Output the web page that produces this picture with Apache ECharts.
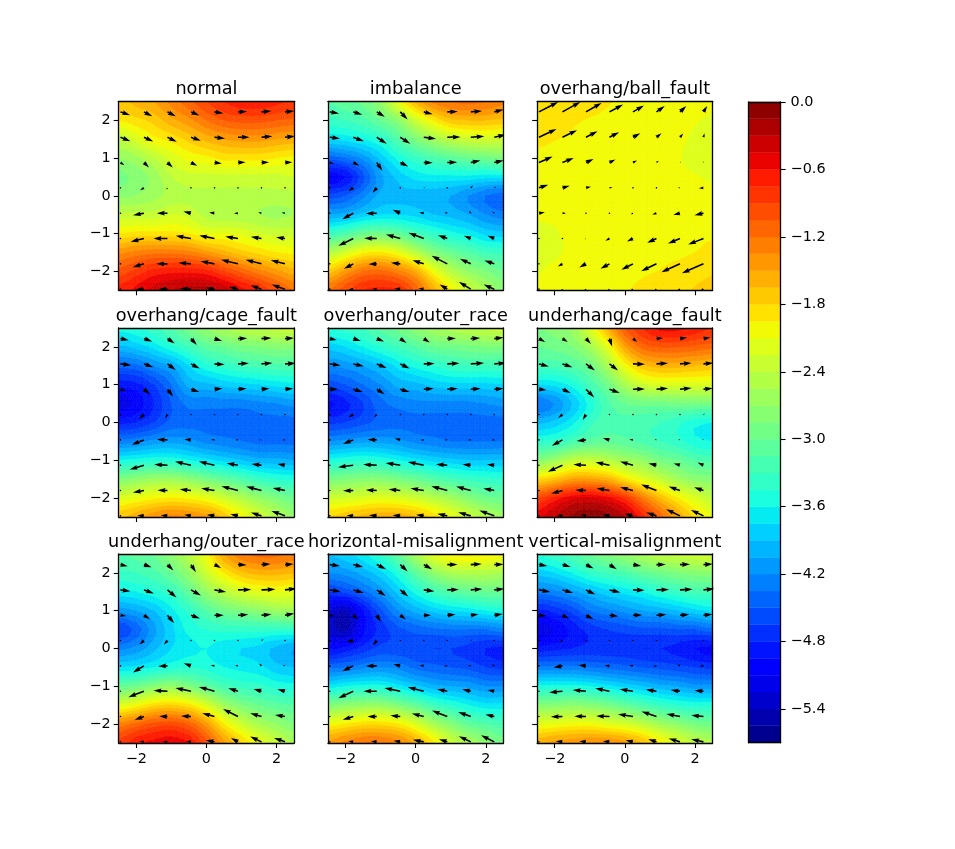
<!DOCTYPE html>
<html>
<head>
<meta charset="utf-8">
<style>html,body{margin:0;padding:0;background:#fff}#chart{width:955px;height:849px}</style>
<script src="https://cdn.jsdelivr.net/npm/echarts@6/dist/echarts.min.js"></script>
</head>
<body>
<div id="chart"></div>
<script>
// contour sample positions, rows go from top (y=2.5) to bottom (y=-2.5)
const gridX = [-2.5,-2,-1.5,-1,-0.5,0,0.5,1,1.5,2,2.5];
const gridY = [2.5,2,1.5,1,0.5,0,-0.5,-1,-1.5,-2,-2.5];
// arrow tails
const arrowX = [-2.45,-1.78,-1.11,-0.44,0.23,0.9,1.57,2.24];
const arrowY = [2.22,1.55,0.88,0.21,-0.46,-1.13,-1.8,-2.47];

const xTicks = [-2,0,2];
const yTicks = [-2,-1,0,1,2];
const barTicks = [0,-0.6,-1.2,-1.8,-2.4,-3.0,-3.6,-4.2,-4.8,-5.4];
const barMin = -5.7;
const barStep = 0.15;

const titles = ['normal','imbalance','overhang/ball_fault','overhang/cage_fault','overhang/outer_race','underhang/cage_fault','underhang/outer_race','horizontal-misalignment','vertical-misalignment'];

const zNormal = [
-1.7,-1.6,-1.5,-1.3,-1.1,-0.9,-0.75,-0.65,-0.65,-0.7,-0.8,
-1.95,-1.85,-1.75,-1.55,-1.4,-1.2,-1.05,-1.0,-1.0,-1.05,-1.1,
-2.4,-2.2,-2.0,-1.9,-1.75,-1.6,-1.5,-1.45,-1.45,-1.5,-1.55,
-2.7,-2.6,-2.4,-2.2,-2.05,-2.0,-1.9,-1.9,-1.9,-1.95,-2.0,
-2.9,-2.8,-2.65,-2.4,-2.3,-2.3,-2.3,-2.3,-2.3,-2.3,-2.25,
-2.75,-2.7,-2.6,-2.5,-2.45,-2.45,-2.45,-2.45,-2.45,-2.45,-2.45,
-2.35,-2.35,-2.35,-2.25,-2.3,-2.45,-2.5,-2.5,-2.55,-2.6,-2.55,
-1.95,-1.9,-1.9,-1.9,-1.95,-2.1,-2.1,-2.15,-2.25,-2.3,-2.3,
-1.4,-1.3,-1.25,-1.25,-1.3,-1.45,-1.6,-1.75,-1.85,-1.95,-2.0,
-1.0,-0.85,-0.7,-0.65,-0.65,-0.7,-0.9,-1.1,-1.3,-1.45,-1.6,
-0.7,-0.55,-0.4,-0.3,-0.25,-0.25,-0.35,-0.55,-0.75,-1.0,-1.2];
const zImbalance = [
-3.15,-3.05,-2.95,-2.7,-2.1,-1.6,-1.3,-1.2,-1.15,-1.2,-1.3,
-3.35,-3.3,-3.2,-3.0,-2.75,-2.3,-1.95,-1.7,-1.65,-1.65,-1.7,
-3.75,-3.7,-3.6,-3.45,-3.15,-2.85,-2.6,-2.4,-2.3,-2.25,-2.3,
-4.45,-4.35,-4.15,-3.85,-3.55,-3.35,-3.2,-3.1,-3.0,-2.95,-2.85,
-5.05,-4.95,-4.55,-4.1,-3.85,-3.7,-3.65,-3.65,-3.65,-3.7,-3.7,
-4.6,-4.5,-4.25,-4.0,-3.95,-3.95,-4.0,-4.05,-4.2,-4.35,-4.45,
-4.05,-4.0,-3.85,-3.75,-3.75,-3.8,-3.9,-3.95,-4.05,-4.2,-4.3,
-3.35,-3.2,-3.0,-2.95,-3.05,-3.25,-3.4,-3.55,-3.65,-3.8,-3.85,
-2.5,-2.25,-2.0,-1.95,-2.1,-2.45,-2.8,-3.0,-3.15,-3.3,-3.35,
-1.75,-1.45,-1.2,-1.15,-1.3,-1.55,-2.05,-2.45,-2.7,-2.85,-3.0,
-1.2,-0.95,-0.75,-0.7,-0.75,-1.1,-1.55,-1.95,-2.3,-2.55,-2.75];
const zBallFault = [
-1.8,-1.83,-1.86,-1.89,-1.94,-1.97,-2.0,-2.02,-2.03,-2.05,-2.08,
-1.86,-1.89,-1.93,-1.96,-1.98,-2.0,-2.02,-2.04,-2.06,-2.09,-2.12,
-1.92,-1.945,-1.97,-2.0,-2.02,-2.03,-2.05,-2.06,-2.08,-2.12,-2.17,
-1.98,-2.0,-2.02,-2.03,-2.04,-2.05,-2.06,-2.07,-2.09,-2.14,-2.19,
-2.02,-2.03,-2.04,-2.05,-2.05,-2.06,-2.06,-2.07,-2.08,-2.09,-2.12,
-2.05,-2.05,-2.05,-2.05,-2.05,-2.05,-2.05,-2.05,-2.05,-2.06,-2.07,
-2.08,-2.08,-2.07,-2.06,-2.05,-2.05,-2.05,-2.04,-2.04,-2.03,-2.03,
-2.14,-2.11,-2.08,-2.07,-2.06,-2.05,-2.04,-2.02,-2.0,-1.98,-1.97,
-2.16,-2.12,-2.08,-2.07,-2.05,-2.03,-2.01,-1.99,-1.98,-1.95,-1.91,
-2.11,-2.07,-2.06,-2.04,-2.02,-2.0,-1.97,-1.945,-1.9,-1.86,-1.82,
-2.08,-2.06,-2.04,-2.02,-2.0,-1.96,-1.92,-1.88,-1.83,-1.79,-1.75];
const zOverCage = [
-3.55,-3.5,-3.35,-3.15,-2.9,-2.7,-2.55,-2.45,-2.4,-2.35,-2.3,
-3.95,-3.85,-3.7,-3.5,-3.3,-3.1,-3.0,-2.9,-2.85,-2.8,-2.8,
-4.45,-4.4,-4.2,-4.05,-3.75,-3.5,-3.4,-3.3,-3.25,-3.2,-3.2,
-4.9,-4.85,-4.65,-4.35,-4.0,-3.95,-3.85,-3.8,-3.75,-3.7,-3.65,
-5.2,-5.05,-4.8,-4.5,-4.3,-4.3,-4.3,-4.3,-4.25,-4.2,-4.15,
-4.85,-4.8,-4.65,-4.45,-4.4,-4.4,-4.4,-4.4,-4.4,-4.4,-4.4,
-4.3,-4.25,-4.15,-4.1,-4.15,-4.25,-4.3,-4.35,-4.4,-4.4,-4.4,
-3.6,-3.55,-3.5,-3.5,-3.6,-3.7,-3.8,-3.9,-4.0,-4.0,-4.05,
-2.85,-2.75,-2.65,-2.65,-2.75,-2.9,-3.05,-3.2,-3.35,-3.45,-3.5,
-2.2,-2.1,-2.0,-1.95,-2.0,-2.1,-2.3,-2.5,-2.7,-2.85,-3.0,
-1.7,-1.55,-1.4,-1.3,-1.35,-1.45,-1.7,-2.0,-2.25,-2.5,-2.7];
const zOverOuter = [
-3.45,-3.4,-3.3,-3.1,-2.95,-2.75,-2.6,-2.5,-2.42,-2.38,-2.3,
-3.85,-3.75,-3.6,-3.45,-3.3,-3.15,-3.0,-2.95,-2.9,-2.85,-2.85,
-4.2,-4.15,-4.05,-3.9,-3.7,-3.55,-3.45,-3.35,-3.3,-3.3,-3.3,
-4.6,-4.5,-4.35,-4.2,-4.0,-3.95,-3.85,-3.8,-3.8,-3.8,-3.75,
-5.0,-4.85,-4.65,-4.4,-4.3,-4.25,-4.25,-4.25,-4.25,-4.2,-4.15,
-4.7,-4.65,-4.55,-4.45,-4.4,-4.4,-4.4,-4.4,-4.4,-4.4,-4.4,
-4.2,-4.15,-4.1,-4.1,-4.15,-4.25,-4.3,-4.35,-4.35,-4.35,-4.35,
-3.55,-3.5,-3.45,-3.5,-3.6,-3.7,-3.8,-3.85,-3.9,-3.9,-3.9,
-2.9,-2.85,-2.8,-2.8,-2.9,-3.0,-3.15,-3.25,-3.35,-3.4,-3.45,
-2.3,-2.25,-2.2,-2.15,-2.2,-2.3,-2.45,-2.6,-2.8,-2.95,-3.0,
-1.8,-1.7,-1.6,-1.55,-1.55,-1.65,-1.85,-2.1,-2.3,-2.5,-2.65];
const zUnderCage = [
-2.85,-2.8,-2.65,-2.2,-1.6,-1.05,-0.75,-0.55,-0.55,-0.65,-0.75,
-3.0,-2.95,-2.85,-2.6,-2.15,-1.5,-1.15,-1.05,-1.05,-1.1,-1.15,
-3.25,-3.25,-3.15,-2.95,-2.55,-2.05,-1.7,-1.6,-1.6,-1.65,-1.7,
-3.75,-3.7,-3.55,-3.25,-2.95,-2.55,-2.3,-2.2,-2.2,-2.2,-2.2,
-4.35,-4.2,-3.9,-3.55,-3.2,-3.0,-2.95,-2.95,-2.9,-2.9,-2.9,
-3.95,-3.85,-3.65,-3.35,-3.2,-3.2,-3.25,-3.3,-3.4,-3.55,-3.6,
-3.45,-3.4,-3.25,-3.1,-3.05,-3.1,-3.2,-3.3,-3.4,-3.55,-3.6,
-2.8,-2.65,-2.4,-2.35,-2.45,-2.6,-2.7,-2.9,-3.0,-3.15,-3.2,
-1.85,-1.7,-1.5,-1.5,-1.6,-1.9,-2.15,-2.35,-2.6,-2.75,-2.8,
-0.95,-0.7,-0.5,-0.45,-0.55,-0.8,-1.25,-1.65,-1.95,-2.2,-2.4,
-0.5,-0.3,-0.12,-0.05,-0.1,-0.3,-0.7,-1.1,-1.5,-1.85,-2.1];
const zUnderOuter = [
-3.15,-3.1,-3.0,-2.75,-2.45,-2.05,-1.5,-1.25,-1.15,-1.15,-1.25,
-3.35,-3.3,-3.2,-3.0,-2.7,-2.3,-1.95,-1.7,-1.6,-1.6,-1.65,
-3.65,-3.6,-3.5,-3.35,-3.05,-2.7,-2.45,-2.25,-2.15,-2.1,-2.15,
-4.15,-4.05,-3.9,-3.65,-3.4,-3.15,-2.95,-2.85,-2.75,-2.65,-2.6,
-4.65,-4.45,-4.1,-3.8,-3.55,-3.45,-3.4,-3.4,-3.4,-3.4,-3.4,
-4.25,-4.15,-3.95,-3.75,-3.65,-3.6,-3.7,-3.75,-3.8,-3.95,-4.05,
-3.75,-3.7,-3.6,-3.5,-3.45,-3.5,-3.6,-3.65,-3.7,-3.85,-3.9,
-3.05,-2.95,-2.8,-2.7,-2.85,-3.05,-3.25,-3.35,-3.4,-3.5,-3.55,
-2.2,-2.05,-1.85,-1.8,-1.9,-2.2,-2.6,-2.85,-3.0,-3.1,-3.15,
-1.3,-1.15,-1.0,-0.95,-1.1,-1.45,-1.95,-2.3,-2.55,-2.7,-2.85,
-0.85,-0.65,-0.55,-0.5,-0.6,-1.0,-1.45,-1.8,-2.1,-2.35,-2.55];
const zHorizontal = [
-3.9,-3.8,-3.65,-3.4,-3.05,-2.55,-2.15,-1.95,-1.9,-1.95,-2.0,
-4.2,-4.15,-4.0,-3.8,-3.5,-3.1,-2.75,-2.55,-2.5,-2.5,-2.55,
-4.7,-4.6,-4.4,-4.15,-3.85,-3.55,-3.3,-3.15,-3.05,-3.0,-3.0,
-5.25,-5.4,-4.95,-4.55,-4.2,-4.0,-3.85,-3.75,-3.7,-3.6,-3.55,
-5.3,-5.45,-5.0,-4.75,-4.55,-4.45,-4.4,-4.35,-4.35,-4.35,-4.25,
-5.0,-4.9,-4.75,-4.6,-4.6,-4.6,-4.65,-4.65,-4.7,-4.8,-4.85,
-4.4,-4.35,-4.25,-4.2,-4.25,-4.4,-4.45,-4.5,-4.55,-4.65,-4.7,
-3.7,-3.6,-3.55,-3.55,-3.7,-3.85,-4.0,-4.05,-4.1,-4.2,-4.2,
-2.85,-2.75,-2.7,-2.7,-2.85,-3.05,-3.3,-3.45,-3.6,-3.7,-3.7,
-2.05,-1.95,-1.85,-1.85,-1.95,-2.2,-2.55,-2.8,-3.05,-3.15,-3.25,
-1.45,-1.3,-1.2,-1.2,-1.3,-1.55,-1.9,-2.3,-2.55,-2.75,-2.95];
const zVertical = [
-3.45,-3.35,-3.2,-3.0,-2.85,-2.7,-2.55,-2.4,-2.35,-2.3,-2.25,
-3.85,-3.75,-3.6,-3.4,-3.3,-3.2,-3.05,-2.95,-2.85,-2.8,-2.75,
-4.3,-4.25,-4.1,-3.95,-3.8,-3.7,-3.6,-3.45,-3.35,-3.25,-3.25,
-4.85,-4.75,-4.6,-4.35,-4.25,-4.15,-4.05,-4.0,-3.9,-3.8,-3.7,
-5.2,-5.1,-4.9,-4.75,-4.65,-4.6,-4.55,-4.55,-4.5,-4.5,-4.4,
-4.9,-4.85,-4.8,-4.75,-4.75,-4.75,-4.8,-4.8,-4.85,-4.95,-5.0,
-4.3,-4.3,-4.3,-4.35,-4.4,-4.45,-4.5,-4.55,-4.6,-4.65,-4.7,
-3.55,-3.55,-3.55,-3.6,-3.7,-3.8,-3.9,-4.0,-4.05,-4.15,-4.15,
-2.8,-2.8,-2.75,-2.8,-2.9,-3.05,-3.2,-3.35,-3.45,-3.5,-3.5,
-2.15,-2.1,-2.05,-2.05,-2.15,-2.25,-2.4,-2.6,-2.75,-2.9,-2.95,
-1.55,-1.45,-1.4,-1.35,-1.35,-1.45,-1.65,-1.95,-2.2,-2.4,-2.5];

const uNormal = [
29,25,25,25,27,28,30,28,
30,28,28,30,32,35,33,30,
12,15,16,19,22,23,23,22,
0,-12,-3,0,2,2,2,2,
-1,-33,-32,-23,-16,-12,-10,-10,
-1,-40,-42,-46,-46,-38,-32,-27,
-2,-34,-34,-38,-42,-51,-48,-43,
-1,-27,-27,-33,-27,-28,-33,-40];
const vNormal = [
10,13,13,11,4,-1,-3,-3,
12,13,14,11,4,0,-3,-3,
8,15,15,10,3,-1,-1,-1,
0,7,6,1,-1,0,-1,0,
0,6,0,-5,-2,0,-3,-2,
0,10,0,-8,-9,-6,-5,-4,
0,10,0,-3,-8,-12,-12,-11,
0,2,0,-2,-4,-7,-12,-14];
const uImbalance = [
28,27,24,22,27,32,34,28,
31,32,30,30,37,40,41,35,
13,18,17,24,27,30,29,28,
0,-15,-13,1,5,3,7,6,
1,-33,-33,-23,-14,-9,-6,-6,
1,-45,-38,-43,-46,-28,-21,-20,
-1,-28,-25,-28,-34,-47,-33,-30,
-1,-15,-13,-18,-16,-23,-36,-32];
const vImbalance = [
5,9,15,23,7,-1,-3,-7,
4,12,20,20,5,-1,-3,-8,
4,10,25,12,1,-1,-6,-6,
0,10,15,2,0,0,-7,-3,
0,18,1,-10,-2,-2,-7,-4,
0,22,-1,-12,-17,-10,-8,-8,
0,15,1,-3,-11,-24,-15,-10,
0,1,-1,-2,-3,-14,-22,-14];
const uBallFault = [
58,54,47,41,33,25,19,11,
53,44,35,29,22,15,10,3,
41,34,23,18,12,7,3,-2,
28,22,15,9,3,2,-6,-14,
18,11,3,2,-7,-13,-20,-27,
1,1,-3,-12,-18,-28,-36,-46,
0,-14,-20,-27,-35,-46,-56,-65,
0,-4,-6,-6,-8,-8,-10,-12];
const vBallFault = [
-30,-30,-27,-22,-19,-18,-18,-18,
-25,-21,-18,-15,-12,-12,-11,-12,
-18,-14,-11,-9,-6,-5,-3,-4,
-9,-6,-3,-2,0,0,0,1,
-3,0,0,-1,3,4,5,6,
0,0,3,7,9,13,15,18,
0,8,11,15,18,22,25,28,
0,8,8,8,8,8,8,8];
const uOverCage = [
25,25,22,18,23,28,30,27,
32,28,25,26,31,33,33,32,
18,18,17,25,24,26,24,25,
0,-15,-7,1,1,1,1,1,
1,-37,-32,-20,-10,-8,-7,-8,
1,-43,-40,-48,-47,-34,-30,-23,
-1,-33,-30,-34,-40,-50,-46,-37,
-1,-20,-20,-20,-23,-23,-32,-41];
const vOverCage = [
5,9,15,19,7,-1,-2,-2,
4,10,18,14,2,-2,-3,-2,
5,15,22,8,-2,-2,-2,-2,
0,13,12,1,0,0,0,0,
0,15,-1,-2,-1,0,0,0,
0,13,-2,-11,-11,-6,-4,-4,
0,6,-1,-4,-7,-13,-12,-8,
0,-1,-2,-3,-3,-5,-10,-15];
const uOverOuter = [
21,23,22,19,18,26,28,28,
33,32,30,28,33,37,40,36,
25,29,24,28,30,32,30,28,
0,-15,-8,1,1,1,1,1,
0,-31,-28,-17,-10,-8,-9,-8,
0,-46,-41,-44,-48,-34,-25,-22,
-1,-31,-33,-35,-40,-48,-44,-33,
-1,-20,-23,-23,-23,-30,-38,-45];
const vOverOuter = [
4,7,9,13,12,-1,-2,-3,
5,7,12,14,-1,-2,-3,-3,
0,8,15,8,-2,-2,-2,-2,
0,8,8,1,0,0,0,0,
0,12,-1,-4,0,0,0,0,
0,6,-2,-7,-10,-3,-2,-2,
0,1,-2,-4,-7,-13,-12,-6,
0,-1,-2,-2,-3,-6,-11,-16];
const uUnderCage = [
19,16,15,8,13,20,22,21,
30,30,27,26,36,35,35,30,
23,25,25,31,36,35,35,28,
0,-13,-10,1,3,3,3,4,
0,-32,-28,-20,-11,-6,-5,-4,
0,-44,-38,-42,-39,-24,-19,-18,
-1,-34,-32,-39,-39,-46,-34,-28,
-1,-16,-15,-20,-26,-31,-42,-38];
const vUnderCage = [
10,10,16,24,10,-2,-3,-3,
8,10,20,20,1,-2,-3,-3,
2,11,25,11,-1,-3,-4,-3,
0,10,16,1,0,0,-2,-4,
0,18,3,-6,-1,-1,-3,-3,
0,20,-2,-9,-11,-5,-5,-8,
0,9,-2,-7,-10,-18,-12,-10,
0,-2,-3,-4,-6,-10,-20,-18];
const uUnderOuter = [
22,23,18,15,20,26,27,26,
30,30,27,30,35,40,42,35,
17,18,20,27,28,31,30,28,
0,-14,-11,2,2,2,6,3,
1,-33,-28,-22,-11,-9,-7,-7,
1,-47,-42,-47,-47,-29,-24,-23,
-1,-28,-25,-30,-37,-45,-34,-30,
-1,-14,-14,-15,-26,-21,-34,-33];
const vUnderOuter = [
5,8,18,23,10,1,-2,-2,
4,11,23,17,6,-1,-2,-4,
2,12,24,10,0,-2,-3,-5,
0,12,12,2,0,0,-5,-2,
0,20,1,-8,-2,-2,-8,-3,
0,18,-2,-10,-13,-9,-7,-6,
0,10,-1,-2,-10,-23,-10,-5,
0,-2,-1,-2,-5,-12,-16,-12];
const uHorizontal = [
31,30,28,22,25,31,33,28,
33,32,27,24,32,35,35,30,
15,15,12,17,22,25,23,25,
0,-21,-12,1,1,1,4,3,
1,-33,-33,-21,-13,-10,-9,-8,
1,-45,-40,-48,-48,-31,-26,-20,
-1,-32,-28,-30,-36,-46,-38,-27,
-1,-15,-18,-20,-33,-25,-36,-40];
const vHorizontal = [
4,7,14,21,14,0,-2,-1,
5,9,18,20,4,-1,-3,-3,
2,13,20,13,0,-2,-3,-4,
0,4,15,0,0,0,-4,-2,
0,16,0,-5,-2,0,-1,-4,
0,21,0,-10,-12,-6,-6,-4,
0,10,0,-3,-9,-18,-14,-6,
0,-2,-2,-3,-6,-8,-17,-20];
const uVertical = [
25,25,23,22,25,28,30,28,
34,32,28,33,35,38,38,33,
23,20,23,27,28,30,28,27,
0,-8,1,1,1,1,3,2,
1,-27,-23,-15,-12,-10,-8,-12,
1,-40,-40,-43,-40,-32,-28,-27,
-1,-35,-35,-40,-45,-45,-41,-37,
-1,-20,-20,-20,-22,-25,-34,-37];
const vVertical = [
4,7,12,14,4,0,-1,-2,
6,9,14,8,1,-1,-2,-4,
2,10,12,3,-1,-2,-2,-3,
0,6,1,0,0,0,-3,-1,
0,5,-2,-2,-1,0,-4,0,
0,4,-4,-9,-6,-5,-4,-2,
0,1,-1,-2,-7,-15,-8,-4,
0,-2,-2,-2,-5,-8,-10,-8];

const zData = [zNormal,zImbalance,zBallFault,zOverCage,zOverOuter,zUnderCage,zUnderOuter,zHorizontal,zVertical];
const uData = [uNormal,uImbalance,uBallFault,uOverCage,uOverOuter,uUnderCage,uUnderOuter,uHorizontal,uVertical];
const vData = [vNormal,vImbalance,vBallFault,vOverCage,vOverOuter,vUnderCage,vUnderOuter,vHorizontal,vVertical];

const arrowUnitX = 1 / 105.5;
const arrowUnitY = 1 / 113.75;

// matplotlib jet
function ramp(t, pts) {
    for (let i = 1; i < pts.length; i++) {
        if (t <= pts[i][0]) {
            const a = pts[i - 1], b = pts[i];
            return a[1] + (b[1] - a[1]) * (t - a[0]) / (b[0] - a[0]);
        }
    }
    return pts[pts.length - 1][1];
}
function jet(t) {
    const r = ramp(t, [[0,0],[0.35,0],[0.66,1],[0.89,1],[1,0.5]]);
    const g = ramp(t, [[0,0],[0.125,0],[0.375,1],[0.64,1],[0.91,0],[1,0]]);
    const b = ramp(t, [[0,0.5],[0.11,1],[0.34,1],[0.65,0],[1,0]]);
    return 'rgb(' + Math.round(r * 255) + ',' + Math.round(g * 255) + ',' + Math.round(b * 255) + ')';
}

const bands = [];
for (let i = 0; i < 38; i++) {
    const lo = barMin + i * barStep;
    bands.push({ lo: lo, hi: lo + barStep, color: jet((i + 0.5) / 38) });
}

// clip a polygon of [x, y, z] to one side of a z level
function clipZ(poly, limit, keepAbove) {
    const out = [];
    for (let i = 0; i < poly.length; i++) {
        const a = poly[i], b = poly[(i + 1) % poly.length];
        const ina = keepAbove ? a[2] >= limit : a[2] <= limit;
        const inb = keepAbove ? b[2] >= limit : b[2] <= limit;
        if (ina) out.push(a);
        if (ina !== inb) {
            const k = (limit - a[2]) / (b[2] - a[2]);
            out.push([a[0] + (b[0] - a[0]) * k, a[1] + (b[1] - a[1]) * k, limit]);
        }
    }
    return out;
}

// the contour surface through the read samples, so band edges come out round
function cubic(a, b, c, d, t) {
    return b + 0.5 * t * (c - a + t * (2 * a - 5 * b + 4 * c - d + t * (3 * (b - c) + d - a)));
}
function surface(z, fi, fj) {
    const n = gridX.length;
    const i = Math.min(Math.floor(fi), n - 2), j = Math.min(Math.floor(fj), n - 2);
    const rows = [];
    for (let r = j - 1; r <= j + 2; r++) {
        const rr = Math.max(0, Math.min(n - 1, r));
        const at = function (c) { return z[rr * n + Math.max(0, Math.min(n - 1, c))]; };
        rows.push(cubic(at(i - 1), at(i), at(i + 1), at(i + 2), fi - i));
    }
    const v = cubic(rows[0], rows[1], rows[2], rows[3], fj - j);
    return Math.max(barMin + 0.001, Math.min(-0.001, v));
}

const refine = 3;

function renderCell(params, api) {
    const ci = api.value(2), cj = api.value(3), z = zData[api.value(4)];
    const children = [];
    function corner(fi, fj) {
        return [gridX[0] + fi * 0.5, gridY[0] - fj * 0.5, surface(z, fi, fj)];
    }
    for (let sj = 0; sj < refine; sj++) {
        for (let si = 0; si < refine; si++) {
            const i0 = ci + si / refine, i1 = ci + (si + 1) / refine;
            const j0 = cj + sj / refine, j1 = cj + (sj + 1) / refine;
            const a = corner(i0, j0), b = corner(i1, j0), c = corner(i1, j1), d = corner(i0, j1);
            const m = [(a[0] + b[0]) / 2, (a[1] + d[1]) / 2, (a[2] + b[2] + c[2] + d[2]) / 4];
            [[a, b, m], [b, c, m], [c, d, m], [d, a, m]].forEach(function (tri) {
                const zMin = Math.min(tri[0][2], tri[1][2], tri[2][2]);
                const zMax = Math.max(tri[0][2], tri[1][2], tri[2][2]);
                bands.forEach(function (band) {
                    if (band.hi < zMin || band.lo > zMax) return;
                    const poly = clipZ(clipZ(tri, band.lo, true), band.hi, false);
                    if (poly.length < 3) return;
                    children.push({
                        type: 'polygon',
                        shape: { points: poly.map(function (p) { return api.coord([p[0], p[1]]); }) },
                        style: { fill: band.color, stroke: band.color, lineWidth: 0.6 }
                    });
                });
            });
        }
    }
    return { type: 'group', children: children };
}

function renderArrow(params, api) {
    const tail = api.coord([api.value(0), api.value(1)]);
    const tip = api.coord([api.value(0) + api.value(2) * arrowUnitX, api.value(1) - api.value(3) * arrowUnitY]);
    const dx = tip[0] - tail[0], dy = tip[1] - tail[1];
    const len = Math.sqrt(dx * dx + dy * dy);
    if (len < 1.2) {
        return { type: 'circle', shape: { cx: tail[0], cy: tail[1], r: 0.8 }, style: { fill: '#000' } };
    }
    const w = 1.6, hl = 5 * w, hal = 4.5 * w, hw = 1.5 * w;
    const s = len < hl ? len / hl : 1;
    const end = len / s;
    const local = [[0, w / 2], [end - hal, w / 2], [end - hl, hw], [end, 0], [end - hl, -hw], [end - hal, -w / 2], [0, -w / 2]];
    const cos = dx / len, sin = dy / len;
    const pts = local.map(function (p) {
        return [tail[0] + s * (p[0] * cos - p[1] * sin), tail[1] + s * (p[0] * sin + p[1] * cos)];
    });
    return { type: 'polygon', shape: { points: pts }, style: { fill: '#000' } };
}

const chart = echarts.init(document.getElementById('chart'));

const colLeft = [118.7, 328, 537.2];
const rowTop = [101.3, 328, 554];
const panelW = 175.4, panelH = 189;
const font = 'DejaVu Sans';

const grids = [], xAxes = [], yAxes = [], series = [], titleOpts = [];
const frame = { show: true, onZero: false, lineStyle: { color: '#000', width: 1.3 } };

titles.forEach(function (name, p) {
    const col = p % 3, row = Math.floor(p / 3);
    grids.push({ left: colLeft[col], top: rowTop[row], width: panelW, height: panelH });
    titleOpts.push({
        text: name, left: colLeft[col] + panelW / 2 - 5, top: rowTop[row] - 26, textAlign: 'center',
        textStyle: { fontFamily: font, fontSize: 17.7, fontWeight: 'normal', color: '#000' }
    });
    const base = { type: 'value', min: -2.5, max: 2.5, gridIndex: p, splitLine: { show: false }, z: 5, axisLine: frame };
    xAxes.push(Object.assign({}, base, {
        position: 'bottom',
        axisTick: { show: true, length: 5, lineStyle: { color: '#000', width: 1.1 }, customValues: xTicks },
        axisLabel: { show: row === 2, customValues: xTicks, margin: 9, color: '#000', fontFamily: font, fontSize: 14.4,
            formatter: function (v) { return String(v).replace('-', '\u2212'); } }
    }));
    xAxes.push(Object.assign({}, base, { position: 'top', axisTick: { show: false }, axisLabel: { show: false } }));
    yAxes.push(Object.assign({}, base, {
        position: 'left',
        axisTick: { show: true, length: 5, lineStyle: { color: '#000', width: 1.1 }, customValues: yTicks },
        axisLabel: { show: col === 0, customValues: yTicks, margin: 8, color: '#000', fontFamily: font, fontSize: 14.4,
            formatter: function (v) { return String(v).replace('-', '\u2212'); } }
    }));
    yAxes.push(Object.assign({}, base, { position: 'right', axisTick: { show: false }, axisLabel: { show: false } }));

    const cells = [];
    const n = gridX.length;
    for (let j = 0; j < n - 1; j++) {
        for (let i = 0; i < n - 1; i++) {
            cells.push([gridX[i], gridY[j], i, j, p]);
        }
    }
    series.push({ type: 'custom', name: name, xAxisIndex: p * 2, yAxisIndex: p * 2, clip: true, silent: true,
        renderItem: renderCell, encode: { x: 0, y: 1 }, data: cells, animation: false, z: 1 });

    const arrows = [];
    arrowY.forEach(function (y, j) {
        arrowX.forEach(function (x, i) {
            arrows.push([x, y, uData[p][j * 8 + i], vData[p][j * 8 + i]]);
        });
    });
    series.push({ type: 'custom', name: name + ' arrows', xAxisIndex: p * 2, yAxisIndex: p * 2, clip: true, silent: true,
        renderItem: renderArrow, encode: { x: 0, y: 1 }, data: arrows, animation: false, z: 2 });
});

// colorbar
grids.push({ left: 748.6, top: 102, width: 32, height: 640.7 });
const barAxis = { show: true, onZero: false, lineStyle: { color: '#000', width: 1.3 } };
xAxes.push({ type: 'value', min: 0, max: 1, gridIndex: 9, position: 'bottom', z: 5, axisLine: barAxis, axisTick: { show: false }, axisLabel: { show: false }, splitLine: { show: false } });
xAxes.push({ type: 'value', min: 0, max: 1, gridIndex: 9, position: 'top', z: 5, axisLine: barAxis, axisTick: { show: false }, axisLabel: { show: false }, splitLine: { show: false } });
yAxes.push({ type: 'value', min: barMin, max: 0, gridIndex: 9, position: 'left', z: 5, axisLine: barAxis, axisTick: { show: false }, axisLabel: { show: false }, splitLine: { show: false } });
yAxes.push({
    type: 'value', min: barMin, max: 0, gridIndex: 9, position: 'right', z: 5, axisLine: barAxis, splitLine: { show: false },
    axisTick: { show: true, length: 5, lineStyle: { color: '#000', width: 1.1 }, customValues: barTicks },
    axisLabel: { customValues: barTicks, margin: 10, color: '#000', fontFamily: font, fontSize: 14.4,
        formatter: function (v) { return v.toFixed(1).replace('-', '\u2212'); } }
});
series.push({
    type: 'custom', name: 'colorbar', xAxisIndex: 18, yAxisIndex: 18, silent: true, animation: false, z: 1,
    encode: { y: [0, 1] },
    data: bands.map(function (b) { return [b.lo, b.hi]; }),
    renderItem: function (params, api) {
        const p0 = api.coord([0, api.value(1)]);
        const p1 = api.coord([1, api.value(0)]);
        const color = bands[params.dataIndex].color;
        return { type: 'rect', shape: { x: p0[0], y: p0[1], width: p1[0] - p0[0], height: p1[1] - p0[1] },
            style: { fill: color, stroke: color, lineWidth: 0.4 } };
    }
});

chart.setOption({
    animation: false,
    backgroundColor: '#fff',
    title: titleOpts,
    grid: grids,
    xAxis: xAxes,
    yAxis: yAxes,
    series: series
});
</script>
</body>
</html>
